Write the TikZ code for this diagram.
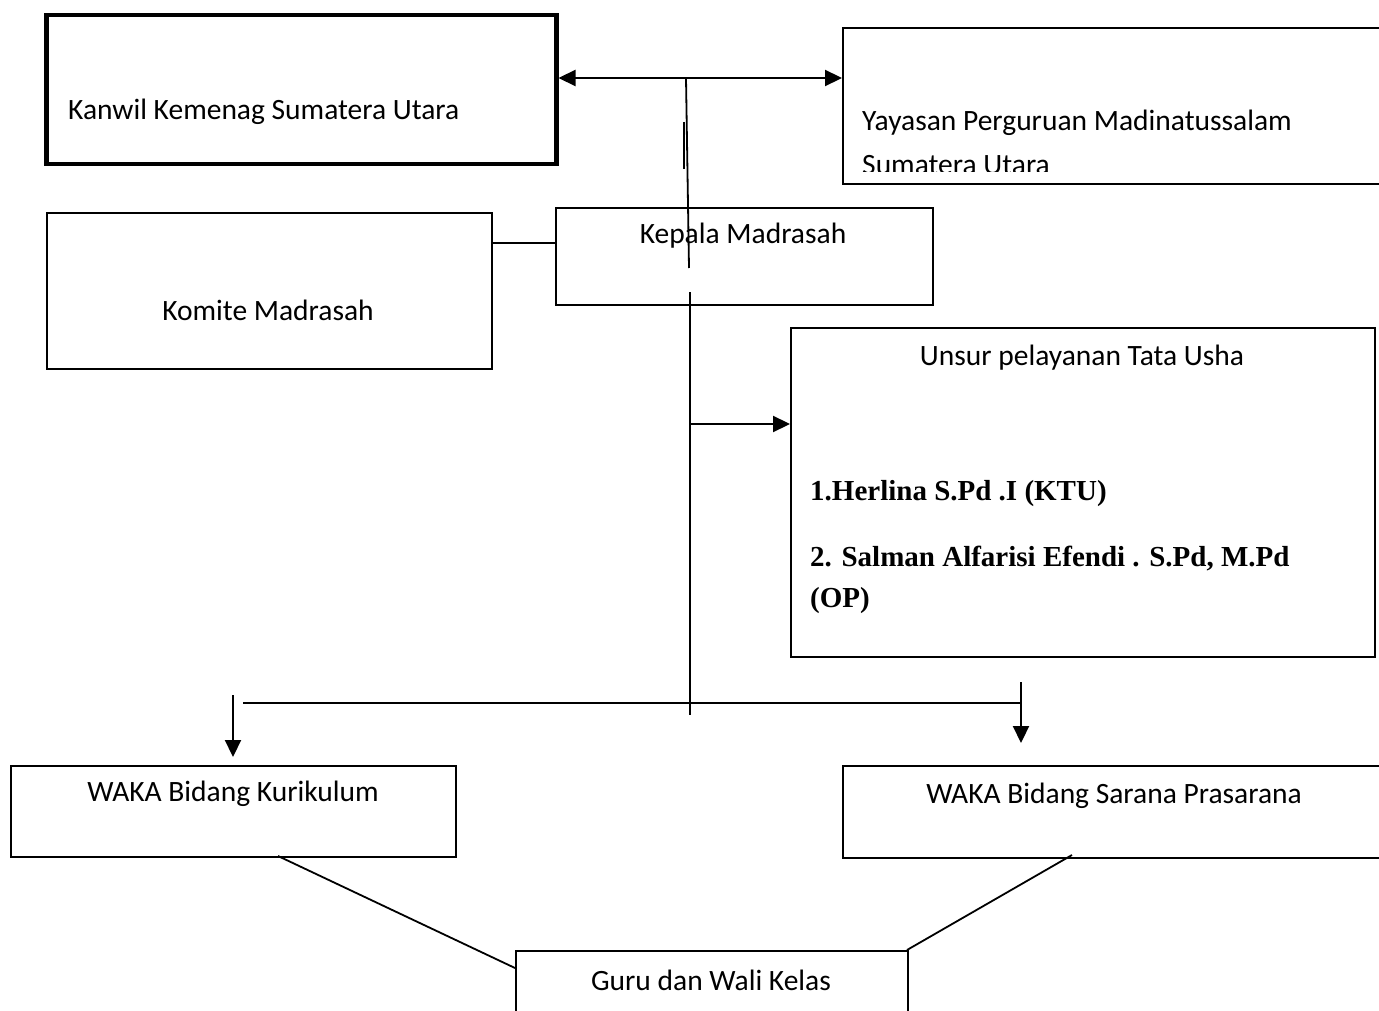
\documentclass[tikz,border=0pt]{standalone}
\usepackage{fontspec}
\setmainfont{Carlito}
\newfontfamily\timesb{Liberation Serif}
\usetikzlibrary{arrows.meta}
\begin{document}
\begin{tikzpicture}[x=1pt,y=-1pt,
  box/.style={draw,line width=1.8pt,rectangle,inner sep=0pt,anchor=north west},
  lbl/.style={font=\fontsize{29.5}{34}\selectfont,inner sep=0pt},
  bl/.style={font=\timesb\bfseries\fontsize{29}{34}\selectfont,inner sep=0pt,anchor=west},
  ln/.style={line width=1.8pt},
  tip/.style={-{Triangle[length=17pt,width=16pt]}},
  arr/.style={line width=2.2pt,tip}]
\useasboundingbox (0,0) rectangle (1379,1011);
\fill[white] (0,0) rectangle (1379,1011);
\clip (0,0) rectangle (1379,1011);
% boxes
\node[box,line width=4.5pt,minimum width=510pt,minimum height=149pt] (kanwil) at (44,13) {};
\node[box,minimum width=600pt,minimum height=156pt] (yayasan) at (842,27) {};
\node[box,minimum width=377pt,minimum height=97pt] (kepala) at (555,207) {};
\node[box,minimum width=445pt,minimum height=156pt] (komite) at (46,212) {};
\node[box,minimum width=584pt,minimum height=329pt] (unsur) at (790,327) {};
\node[box,minimum width=445pt,minimum height=91pt] (wakak) at (10,765) {};
\node[box,minimum width=600pt,minimum height=92pt] (wakas) at (842,765) {};
\node[box,minimum width=392pt,minimum height=200pt] (guru) at (515,950) {};
% texts
\node[lbl,anchor=west] (kanwilt) at (68,112) {Kanwil Kemenag Sumatera Utara};
\node[lbl,anchor=west] (yayasant) at (862,123) {Yayasan Perguruan Madinatussalam};
\begin{scope}
\clip (842,0) rectangle (1379,172);
\node[lbl,anchor=west] (yayasant2) at (862,165) {Sumatera Utara};
\end{scope}
\node[lbl] (kepalat) at (743,236) {Kepala Madrasah};
\node[lbl] (komitet) at (268,310) {Komite Madrasah};
\node[lbl] (unsurt) at (1082,358) {Unsur pelayanan Tata Usha};
\node[bl] (u1) at (810,494) {1.Herlina S.Pd .I (KTU)};
\node[bl] (u2) at (810,559) {2. Salman Alfarisi Efendi . S.Pd, M.Pd};
\node[bl] (u3) at (810,601) {(OP)};
\node[lbl] (wakakt) at (233,794) {WAKA Bidang Kurikulum};
\node[lbl] (wakast) at (1114,796) {WAKA Bidang Sarana Prasarana};
\node[lbl] (gurut) at (711,980) {Guru dan Wali Kelas};
% helper coordinates
\coordinate (ytop) at (0,78);
\coordinate (ykom) at (0,243);
\coordinate (yuns) at (0,424);
\coordinate (v1t) at (686,78);
\coordinate (v1b) at (689,268);
\coordinate (s1) at (684,122);
\coordinate (s2) at (684,169);
\coordinate (v2t) at (690,292);
\coordinate (v2b) at (690,715);
\coordinate (hl) at (243,703);
\coordinate (hr) at (1021,703);
\coordinate (lat) at (233,695);
\coordinate (lab) at (233,757);
\coordinate (rat) at (1021,682);
\coordinate (rab) at (1021,743);
\coordinate (gk1) at (278,856);
\coordinate (gk2) at (515,968);
\coordinate (gs1) at (1072,855);
\coordinate (gs2) at (907,950);
% connectors
\draw[line width=2.2pt,{Triangle[length=17pt,width=16pt]}-{Triangle[length=17pt,width=16pt]}] (kanwil.east |- ytop) -- (yayasan.west |- ytop);
\draw[ln] (v1t) -- (v1b);
\draw[line width=2.5pt] (s1) -- (s2);
\draw[ln] (komite.east |- ykom) -- (kepala.west |- ykom);
\draw[ln] (v2t) -- (v2b);
\draw[arr] (v2t |- yuns) -- (unsur.west |- yuns);
\draw[ln] (hl) -- (hr);
\draw[arr] (lat) -- (lab);
\draw[arr] (rat) -- (rab);
\draw[ln] (gk1) -- (gk2);
\draw[ln] (gs1) -- (gs2);
\end{tikzpicture}
\end{document}
